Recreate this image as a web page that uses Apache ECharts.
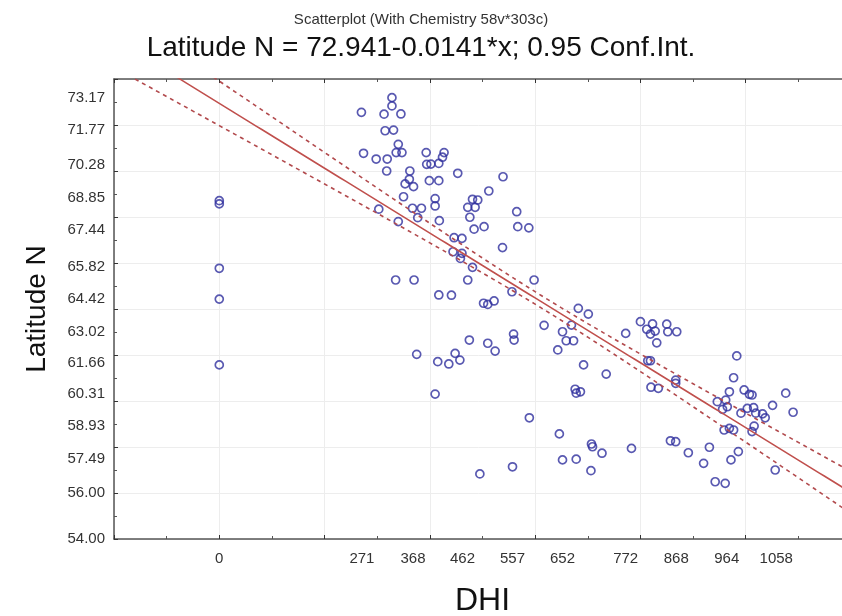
<!DOCTYPE html>
<html><head><meta charset="utf-8">
<script src="https://cdn.jsdelivr.net/npm/echarts@6/dist/echarts.min.js"></script>
<style>html,body{margin:0;padding:0;background:#fff}#c{width:842px;height:616px}</style>
</head><body><div id="c"></div>
<script>
// DHI (x) values of the scatter points
const dhi = [
  0,0,0,0,0,
  270,328,328,313,345,315,331,340,336,347,274,298,319,318,393,427,424,394,402,417,
  362,453,539,361,353,369,399,417,512,350,410,410,367,384,377,303,340,418,481,491,
  472,486,476,484,503,565,567,588,446,461,444,461,458,481,538,335,370,472,598,
  417,441,556,502,510,522,617,475,510,524,559,560,375,415,436,448,457,410,589,557,495,
  682,701,669,652,659,673,643,692,735,676,678,686,772,800,812,823,828,819,831,850,
  852,869,814,819,867,867,820,834,646,707,709,727,783,652,678,706,857,867,891,
  983,977,969,997,1007,1012,1076,946,962,956,965,991,1003,1015,1019,1032,1037,1051,1090,959,
  969,977,1016,1012,931,986,920,972,1056,942,961
];
// Latitude N (y) values of the scatter points
const latitude = [
  68.71,68.57,65.77,64.43,61.57,
  72.55,73.19,72.83,72.47,72.48,71.75,71.78,71.16,70.80,70.80,70.77,70.52,70.52,70.00,70.80,70.80,70.60,70.29,70.30,70.33,
  70.00,69.90,69.75,69.64,69.44,69.32,69.58,69.58,69.13,68.88,68.80,68.48,68.38,68.38,67.97,68.34,67.80,67.84,68.77,68.74,
  68.42,68.42,67.99,67.47,67.58,68.23,67.58,67.53,67.10,67.07,66.49,66.42,66.20,65.81,66.67,65.26,65.26,65.26,65.26,
  64.61,64.60,64.75,64.25,64.20,64.35,63.29,62.65,62.51,62.17,62.91,62.65,62.03,61.71,61.61,62.07,61.78,60.30,59.27,57.14,56.83,
  64.03,63.78,63.30,63.01,62.62,62.62,62.22,61.57,61.17,60.51,60.34,60.40,62.94,63.45,63.12,63.35,63.04,62.91,62.53,63.34,
  63.01,63.01,61.75,61.75,60.91,60.77,60.60,60.55,58.57,58.13,58.01,57.73,57.94,57.44,57.47,56.97,58.27,58.23,57.75,
  61.96,61.01,60.40,60.48,60.29,60.26,60.34,59.97,60.04,59.64,59.75,59.47,59.68,59.71,59.47,59.44,59.27,59.81,59.51,58.74,
  58.81,58.74,58.91,58.67,57.99,57.80,57.29,57.44,57.00,56.49,56.42
];
// Axis tick labels as printed on the chart
const xTickLabels = [0, 271, 368, 462, 557, 652, 772, 868, 964, 1058];
const yTickLabels = [54.00, 56.00, 57.49, 58.93, 60.31, 61.66, 63.02, 64.42, 65.82, 67.44, 68.85, 70.28, 71.77, 73.17];
// Fitted model from the title and its 0.95 confidence band
const intercept = 72.941;
const slope = -0.0141;
const ciCenterX = 620;
const ciHalfAtCenter = 0.27;
const ciGrowth = 0.0015;

const xMin = -200, xMax = 1200;
const fitLine = [], upperBand = [], lowerBand = [];
for (let x = xMin; x <= xMax; x += 10) {
  const yh = intercept + slope * x;
  const w = Math.sqrt(ciHalfAtCenter * ciHalfAtCenter + Math.pow(ciGrowth * (x - ciCenterX), 2));
  fitLine.push([x, yh]);
  upperBand.push([x, yh + w]);
  lowerBand.push([x, yh - w]);
}
const points = dhi.map((x, i) => [x, latitude[i]]);

const chart = echarts.init(document.getElementById('c'), null, {renderer: 'canvas'});
const font = 'Liberation Sans, Arial, sans-serif';
const axisCol = '#555';
chart.setOption({
  backgroundColor: '#ffffff',
  animation: false,
  title: [
    {text: 'Scatterplot (With Chemistry 58v*303c)', left: 'center', top: 7,
     textStyle: {fontSize: 15, fontWeight: 'normal', color: '#333', fontFamily: font}},
    {text: 'Latitude N = 72.941-0.0141*x; 0.95 Conf.Int.', left: 'center', top: 29,
     textStyle: {fontSize: 28, fontWeight: 'normal', color: '#111', fontFamily: font}}
  ],
  grid: {left: 114, top: 79, width: 737, height: 460, containLabel: false, outerBoundsMode: 'none'},
  xAxis: [
    {type: 'value', min: xMin, max: xMax, interval: 200, position: 'bottom',
     name: 'DHI', nameLocation: 'middle', nameGap: 46,
     nameTextStyle: {fontSize: 32, color: '#111', fontFamily: font},
     axisLine: {show: true, onZero: false, lineStyle: {color: axisCol, width: 1.5}},
     axisTick: {show: true, inside: true, length: 4, lineStyle: {color: '#333'}},
     minorTick: {show: true, splitNumber: 2, length: 3, lineStyle: {color: '#555'}},
     splitLine: {show: true, lineStyle: {color: '#ededed', width: 1}},
     axisLabel: {customValues: xTickLabels, formatter: v => String(v), fontSize: 15, color: '#333', margin: 12, fontFamily: font}},
    {type: 'value', min: xMin, max: xMax, interval: 200, position: 'top',
     axisLine: {show: true, onZero: false, lineStyle: {color: axisCol, width: 1.5}},
     axisTick: {show: true, inside: true, length: 4, lineStyle: {color: '#333'}},
     minorTick: {show: true, splitNumber: 2, length: 3, lineStyle: {color: '#555'}},
     splitLine: {show: false}, axisLabel: {show: false}}
  ],
  yAxis: [
    {type: 'value', min: 54, max: 74, interval: 2, position: 'left',
     name: 'Latitude N', nameLocation: 'middle', nameGap: 63, nameRotate: 90,
     nameTextStyle: {fontSize: 28, color: '#111', fontFamily: font},
     axisLine: {show: true, onZero: false, lineStyle: {color: axisCol, width: 1.5}},
     axisTick: {show: true, inside: true, length: 4, lineStyle: {color: '#333'}},
     minorTick: {show: true, splitNumber: 2, length: 3, lineStyle: {color: '#555'}},
     splitLine: {show: true, lineStyle: {color: '#ededed', width: 1}},
     axisLabel: {customValues: yTickLabels, formatter: v => v.toFixed(2), fontSize: 15, color: '#333', margin: 9, fontFamily: font}}
  ],
  series: [
    {type: 'scatter', xAxisIndex: 0, yAxisIndex: 0, data: points, symbol: 'circle', symbolSize: 8,
     itemStyle: {color: 'rgba(255,255,255,0)', borderColor: '#2f2f9e', borderWidth: 1.7}, z: 3},
    {type: 'line', xAxisIndex: 0, yAxisIndex: 0, data: fitLine, showSymbol: false, clip: true,
     lineStyle: {color: '#c0504d', width: 1.6}, z: 4},
    {type: 'line', xAxisIndex: 0, yAxisIndex: 0, data: upperBand, showSymbol: false, clip: true,
     lineStyle: {color: '#b24a4d', width: 1.6, type: [4, 4]}, z: 4},
    {type: 'line', xAxisIndex: 0, yAxisIndex: 0, data: lowerBand, showSymbol: false, clip: true,
     lineStyle: {color: '#b24a4d', width: 1.6, type: [4, 4]}, z: 4}
  ]
});
</script></body></html>
